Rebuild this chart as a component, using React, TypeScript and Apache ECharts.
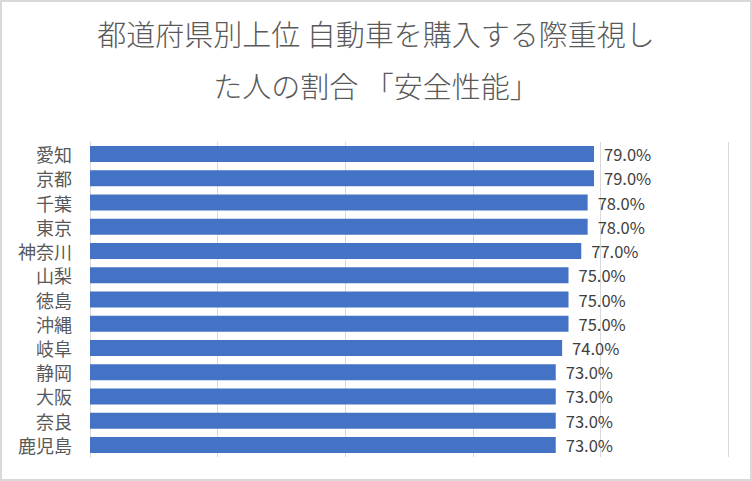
import React, { useEffect, useRef } from "react";
import * as echarts from "echarts";

const categories = ["愛知", "京都", "千葉", "東京", "神奈川", "山梨", "徳島", "沖縄", "岐阜", "静岡", "大阪", "奈良", "鹿児島"];
const values = [79, 79, 78, 78, 77, 75, 75, 75, 74, 73, 73, 73, 73];
const titleText = "都道府県別上位 自動車を購入する際重視し\nた人の割合 「安全性能」";

const FONT = '"Noto Sans CJK JP", "Noto Sans", sans-serif';

export default function App() {
  const ref = useRef<HTMLDivElement>(null);
  useEffect(() => {
    if (!ref.current) return;
    const chart = echarts.init(ref.current, undefined, { renderer: "svg" });
    chart.setOption({
      animation: false,
      backgroundColor: "#ffffff",
      title: {
        text: titleText,
        left: "center",
        top: 0,
        textStyle: {
          fontFamily: FONT,
          fontSize: 29,
          fontWeight: 300,
          color: "#595959",
          lineHeight: 52,
        },
      },
      grid: { left: 88, right: 22, top: 140, bottom: 22 },
      xAxis: {
        type: "value",
        min: 0,
        max: 100,
        interval: 20,
        axisLabel: { show: false },
        axisLine: { show: false },
        axisTick: { show: false },
        splitLine: { show: true, lineStyle: { color: "#d9d9d9", width: 1 } },
      },
      yAxis: {
        type: "category",
        data: categories,
        inverse: true,
        axisLine: { show: true, lineStyle: { color: "#d9d9d9", width: 1 } },
        axisTick: { show: false },
        axisLabel: {
          margin: 18,
          fontFamily: FONT,
          fontSize: 18,
          color: "#595959",
        },
      },
      series: [
        {
          type: "bar",
          data: values,
          barCategoryGap: "34%",
          itemStyle: { color: "#4472C4" },
          label: {
            show: true,
            position: "right",
            distance: 10,
            fontFamily: FONT,
            fontSize: 16.5,
            color: "#404040",
            formatter: (p: any) => p.value.toFixed(1) + "%",
          },
        },
      ],
    });
    return () => chart.dispose();
  }, []);
  return (
    <div
      style={{
        position: "fixed",
        left: 0,
        top: 0,
        width: 752,
        height: 481,
        boxSizing: "border-box",
        border: "2px solid #d9d9d9",
        background: "#fff",
      }}
    >
      <div ref={ref} style={{ width: 748, height: 477 }} />
    </div>
  );
}
